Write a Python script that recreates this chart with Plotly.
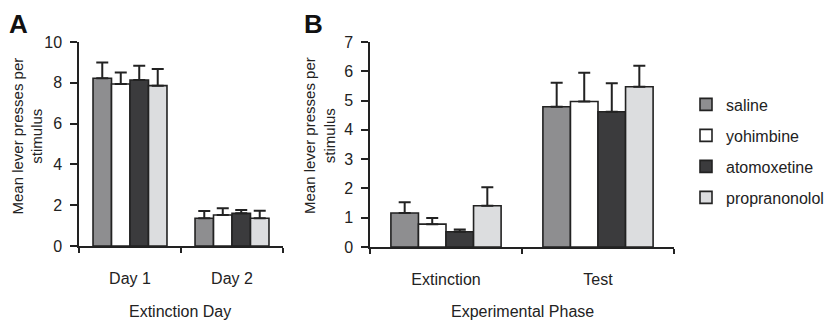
import plotly.graph_objects as go

# ---- data ----
groups = ["saline", "yohimbine", "atomoxetine", "propranonolol"]
colors = ["#8e8e90", "#ffffff", "#3b3b3d", "#dcdddf"]

days = ["Day 1", "Day 2"]
saline_A = [8.22, 1.36]
yohimbine_A = [7.94, 1.52]
atomoxetine_A = [8.14, 1.60]
propranolol_A = [7.86, 1.36]
saline_A_err = [0.78, 0.36]
yohimbine_A_err = [0.57, 0.33]
atomoxetine_A_err = [0.70, 0.16]
propranolol_A_err = [0.82, 0.37]

phases = ["Extinction", "Test"]
saline_B = [1.16, 4.79]
yohimbine_B = [0.78, 4.97]
atomoxetine_B = [0.52, 4.62]
propranolol_B = [1.41, 5.47]
saline_B_err = [0.37, 0.82]
yohimbine_B_err = [0.21, 0.98]
atomoxetine_B_err = [0.08, 0.97]
propranolol_B_err = [0.63, 0.72]

A_vals = [saline_A, yohimbine_A, atomoxetine_A, propranolol_A]
A_errs = [saline_A_err, yohimbine_A_err, atomoxetine_A_err, propranolol_A_err]
B_vals = [saline_B, yohimbine_B, atomoxetine_B, propranolol_B]
B_errs = [saline_B_err, yohimbine_B_err, atomoxetine_B_err, propranolol_B_err]

W, H = 834, 320
OFF = 8  # page body margin in the browser
FONT = "Liberation Sans, Arial, sans-serif"
FS = 16
INK = "#222222"


def px(x):
    return (x - OFF) / W


def py(y):
    return 1 - (y - OFF) / H


fig = go.Figure()

for i, g in enumerate(groups):
    fig.add_trace(go.Bar(
        x=days, y=A_vals[i], name=g, legendgroup=g, showlegend=True,
        marker=dict(color=colors[i], line=dict(color=INK, width=1.6)),
        error_y=dict(type="data", symmetric=False, array=A_errs[i],
                     arrayminus=[0] * len(A_errs[i]),
                     color=INK, thickness=2, width=6),
        xaxis="x", yaxis="y",
    ))
for i, g in enumerate(groups):
    fig.add_trace(go.Bar(
        x=phases, y=B_vals[i], name=g, legendgroup=g, showlegend=False,
        marker=dict(color=colors[i], line=dict(color=INK, width=1.6)),
        error_y=dict(type="data", symmetric=False, array=B_errs[i],
                     arrayminus=[0] * len(B_errs[i]),
                     color=INK, thickness=2, width=6),
        xaxis="x2", yaxis="y2",
    ))

axis_common = dict(showline=True, linecolor=INK, linewidth=1.5, ticks="outside",
                   tickcolor=INK, tickwidth=1.5, showgrid=False, zeroline=False,
                   automargin=False,
                   tickfont=dict(family=FONT, size=FS, color=INK))

fig.update_layout(
    width=W, height=H,
    margin=dict(l=0, r=0, t=0, b=0, autoexpand=False),
    paper_bgcolor="white", plot_bgcolor="white",
    barmode="group", bargap=0.275, bargroupgap=0,
    font=dict(family=FONT, size=FS, color=INK),
    xaxis=dict(domain=[px(79), px(283)], anchor="y", type="category",
               range=[-0.5, 1.5], tickson="boundaries", ticklen=5,
               ticklabelstandoff=17, **axis_common),
    yaxis=dict(domain=[py(246), py(42)], anchor="x", range=[0, 10],
               tickvals=[0, 2, 4, 6, 8, 10], ticklen=7, ticklabelstandoff=5,
               **axis_common),
    xaxis2=dict(domain=[px(370), px(674)], anchor="y2", type="category",
                range=[-0.5, 1.5], tickson="boundaries", ticklen=5,
                ticklabelstandoff=17, **axis_common),
    yaxis2=dict(domain=[py(247), py(42)], anchor="x2", range=[0, 7],
                dtick=1, ticklen=7, ticklabelstandoff=5, **axis_common),
    legend=dict(x=px(686), y=py(87.5), xanchor="left", yanchor="top",
                tracegroupgap=7.2, font=dict(family=FONT, size=FS, color=INK),
                bgcolor="rgba(0,0,0,0)", borderwidth=0),
    showlegend=True,
)

ann = dict(xref="paper", yref="paper", showarrow=False,
           xanchor="center", yanchor="middle",
           font=dict(family=FONT, size=FS, color=INK))
ytitle_font = dict(family=FONT, size=15, color=INK)
big = dict(family=FONT, size=26, color="#111")
fig.add_annotation(x=px(18), y=py(24), text="<b>A</b>", **{**ann, "font": big})
fig.add_annotation(x=px(313), y=py(24), text="<b>B</b>", **{**ann, "font": big})
fig.add_annotation(x=px(26.5), y=py(136), text="Mean lever presses per<br>stimulus",
                   textangle=-90, **{**ann, "font": ytitle_font})
fig.add_annotation(x=px(319), y=py(136), text="Mean lever presses per<br>stimulus",
                   textangle=-90, **{**ann, "font": ytitle_font})
fig.add_annotation(x=px(180), y=py(311), text="Extinction Day", **ann)
fig.add_annotation(x=px(522), y=py(311), text="Experimental Phase", **ann)

fig.write_html("out.html")
